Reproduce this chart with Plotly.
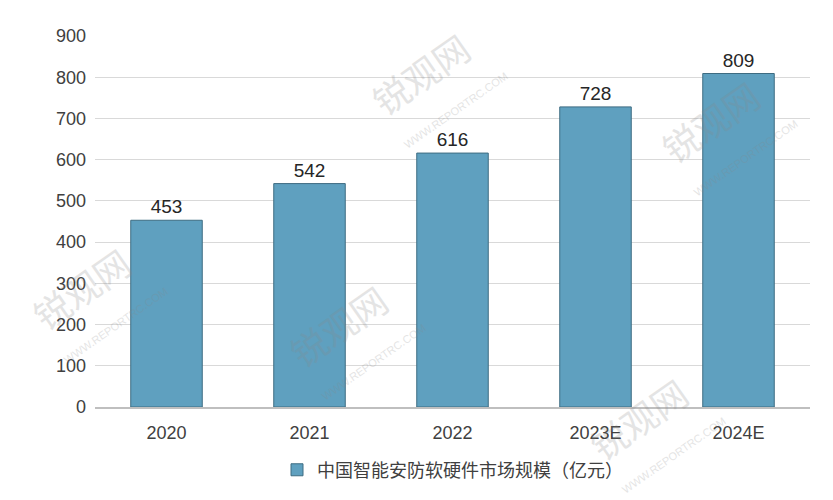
import plotly.graph_objects as go

categories = ["2020", "2021", "2022", "2023E", "2024E"]
values = [453, 542, 616, 728, 809]
series_name = "中国智能安防软硬件市场规模（亿元）"
y_ticks = [0, 100, 200, 300, 400, 500, 600, 700, 800, 900]

fig = go.Figure()
fig.add_trace(go.Bar(
    x=categories, y=values, name=series_name,
    marker=dict(color="#5FA0BF", line=dict(color="#3E6C82", width=1)),
    width=0.5,
    text=[str(v) for v in values], textposition="outside",
    textfont=dict(size=19, color="#262626", family="Liberation Sans, Arial"),
    cliponaxis=False,
))

# watermarks
wm = [(0.455, 0.9), (0.86, 0.77), (-0.02, 0.32), (0.34, 0.22), (0.76, -0.03)]
for (px, py) in wm:
    fig.add_annotation(xref="paper", yref="paper", x=px, y=py, text="锐观网",
                       xanchor="center", yanchor="middle",
                       showarrow=False, textangle=-35, opacity=0.22,
                       font=dict(size=36, color="#888888", family="Noto Sans CJK SC"))
    fig.add_annotation(xref="paper", yref="paper", x=px + 0.05, y=py - 0.1,
                       xanchor="center", yanchor="middle",
                       text="WWW.REPORTRC.COM", showarrow=False, textangle=-35,
                       opacity=0.22, font=dict(size=11, color="#888888", family="Liberation Sans"))

fig.update_layout(
    width=833, height=500,
    margin=dict(l=87, r=31, t=28, b=101),
    paper_bgcolor="white", plot_bgcolor="white",
    font=dict(family="Liberation Sans, Arial", size=18, color="#404040"),
    bargap=0.5,
    showlegend=True,
    legend=dict(orientation="h", x=0.5, xanchor="center", y=-0.17, yanchor="middle",
                font=dict(size=18, color="#404040", family="Noto Sans CJK SC"),
                itemwidth=30),
    xaxis=dict(showgrid=False, showline=True, linecolor="#BFBFBF", linewidth=1.5,
               ticks="", tickfont=dict(size=18, color="#404040"), ticklabelstandoff=9),
    yaxis=dict(range=[0, 900], tickvals=y_ticks, showgrid=True, gridcolor="#D9D9D9",
               gridwidth=1, zeroline=False, showline=False, ticks="",
               tickfont=dict(size=18, color="#404040"), ticklabelstandoff=8),
)

fig.write_html("out.html")
